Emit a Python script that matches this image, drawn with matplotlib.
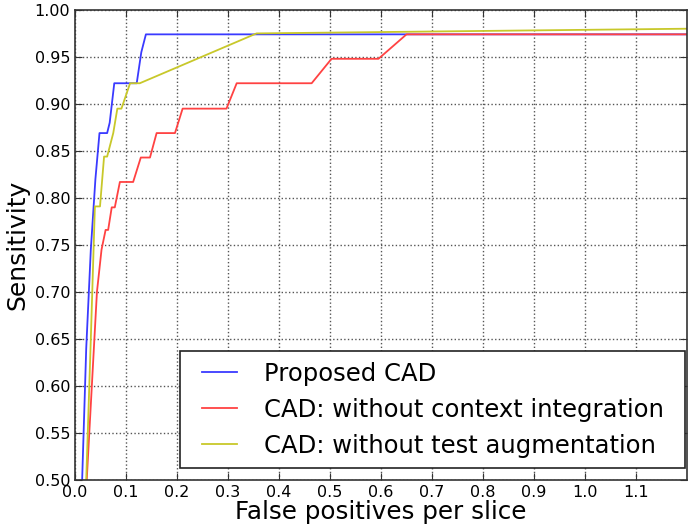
import numpy as np
import matplotlib
matplotlib.use('Agg')
import matplotlib.pyplot as plt
from matplotlib.path import Path

# points (false positives per slice, sensitivity)
proposed_x = [0.014, 0.022, 0.031, 0.040, 0.048, 0.063, 0.068, 0.077, 0.121, 0.130, 0.139, 1.2]
proposed_y = [0.500, 0.640, 0.745, 0.820, 0.869, 0.869, 0.880, 0.922, 0.922, 0.955, 0.974, 0.974]

no_context_x = [0.023, 0.033, 0.043, 0.052, 0.060, 0.065, 0.072, 0.078, 0.088, 0.114, 0.129,
                0.147, 0.160, 0.196, 0.211, 0.297, 0.317, 0.464, 0.503, 0.595, 0.650, 1.2]
no_context_y = [0.500, 0.600, 0.700, 0.745, 0.766, 0.766, 0.790, 0.790, 0.817, 0.817, 0.843,
                0.843, 0.869, 0.869, 0.895, 0.895, 0.922, 0.922, 0.948, 0.948, 0.974, 0.974]

no_augment_x = [0.022, 0.031, 0.039, 0.049, 0.057, 0.063, 0.075, 0.083, 0.091, 0.108, 0.127, 0.356, 1.2]
no_augment_y = [0.500, 0.650, 0.791, 0.791, 0.844, 0.844, 0.869, 0.895, 0.895, 0.922, 0.922, 0.975, 0.980]

labels = ["Proposed CAD",
          "CAD: without context integration",
          "CAD: without test augmentation"]


def wide_box(x0, y0, width, height, mutation_size):
    # legend frame with extra room left and right only
    dx = 0.45 * mutation_size
    return Path([(x0 - dx, y0), (x0 + width + dx, y0), (x0 + width + dx, y0 + height),
                 (x0 - dx, y0 + height), (x0 - dx, y0)], closed=True)


fig = plt.figure(figsize=(6.9, 5.3), dpi=100)
ax = fig.add_axes([0.1087, 0.0943, 0.887, 0.887])

ax.plot(proposed_x, proposed_y, color='#3a3aff', lw=1.3, label=labels[0])
ax.plot(no_context_x, no_context_y, color='#ff4242', lw=1.3, label=labels[1])
ax.plot(no_augment_x, no_augment_y, color='#c8c82a', lw=1.3, label=labels[2])

ax.set_xlim(0, 1.2)
ax.set_ylim(0.5, 1.0)
ax.set_xticks(np.arange(0, 1.15, 0.1))
ax.set_xticklabels(["%.1f" % t for t in np.arange(0, 1.15, 0.1)])
ax.set_yticks(np.arange(0.5, 1.001, 0.05))
ax.set_yticklabels(["%.2f" % t for t in np.arange(0.5, 1.001, 0.05)])
ax.tick_params(direction='in', top=True, right=True, labelsize=11.5, length=5, color='#333333')
ax.grid(True, color='#555555', linestyle=':', linewidth=1)
for s in ax.spines.values():
    s.set_color('#333333')
    s.set_linewidth(1.2)

ax.set_xlabel("False positives per slice", fontsize=17.7, labelpad=0)
ax.set_ylabel("Sensitivity", fontsize=18, labelpad=4)

leg = ax.legend(loc='lower right', bbox_to_anchor=(0.9788, 0.0255), borderaxespad=0,
                fontsize=17.5, fancybox=False, framealpha=1,
                edgecolor='#222222', borderpad=0.43, handlelength=1.45, handletextpad=1.1,
                labelspacing=0.49)
leg.get_frame().set_linewidth(1.2)
leg.get_frame().set_boxstyle(wide_box)

fig.savefig('out.png', dpi=100)
